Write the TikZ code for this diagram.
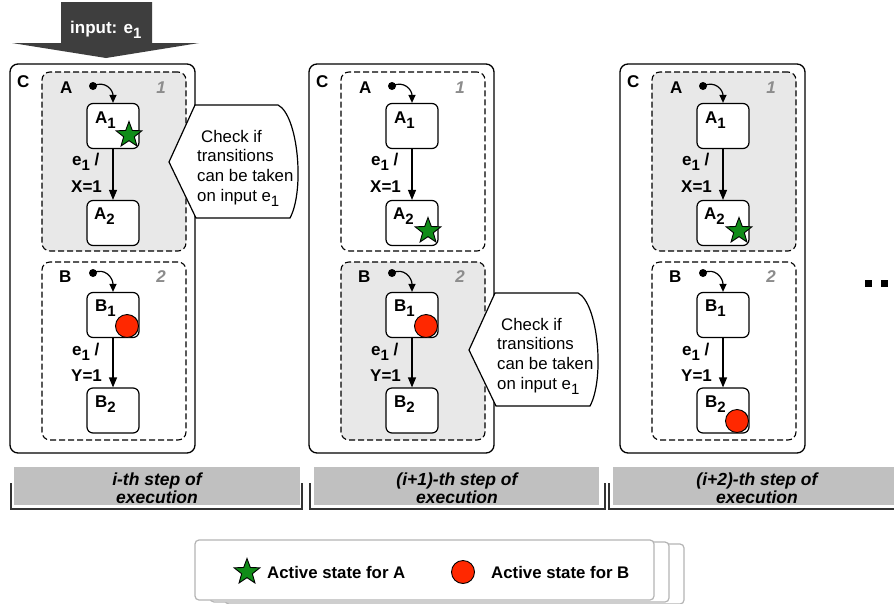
\documentclass[tikz,border=0pt]{standalone}
\usepackage{fontspec}
\setmainfont{Liberation Sans}
\usetikzlibrary{arrows.meta,shapes.geometric}
\definecolor{shade}{RGB}{232,232,232}
\definecolor{stargreen}{RGB}{16,140,24}
\definecolor{dotred}{RGB}{255,40,0}
\definecolor{arrowgray}{RGB}{62,62,62}
\definecolor{bargray}{RGB}{192,192,192}
\definecolor{numgray}{RGB}{140,140,140}
\definecolor{legline}{RGB}{180,180,180}
\newcommand\ssub[1]{\raisebox{-5pt}{\fontsize{15}{15}\selectfont #1}}
\tikzset{
 cbox/.style={draw, line width=1.3pt, rounded corners=8pt, minimum width=185pt, minimum height=389pt, inner sep=0pt, fill=white},
 region/.style={draw, dash pattern=on 6pt off 3pt, line width=1.1pt, rounded corners=8pt, minimum width=144pt, inner sep=0pt},
 st/.style={draw, fill=white, line width=1.2pt, rounded corners=6pt, minimum width=52pt, minimum height=45pt, inner sep=0pt},
 lbl/.style={font=\fontsize{17}{19}\selectfont\bfseries, inner sep=0pt},
 numlbl/.style={font=\fontsize{17}{19}\selectfont\bfseries\itshape, text=numgray, inner sep=0pt},
 trans/.style={-{Triangle[length=10pt,width=8pt]}, line width=1.2pt},
 initarr/.style={-{Triangle[length=8pt,width=7pt]}, line width=1.2pt},
 activeA/.style={star, star points=5, star point ratio=2.4, minimum size=27pt, inner sep=0pt, draw, line width=0.9pt, fill=stargreen},
 activeB/.style={circle, minimum size=23pt, inner sep=0pt, draw, line width=0.9pt, fill=dotred},
 calloutbox/.style={draw, line width=1.2pt, fill=white},
 callouttext/.style={font=\fontsize{16.8}{19.7}\selectfont, align=left, inner sep=0pt},
 steptext/.style={font=\fontsize{17.5}{18.5}\selectfont\bfseries\itshape, align=center, inner sep=0pt},
 bracket/.style={draw=black!80, line width=1.2pt},
 legbox/.style={draw=legline, line width=1.2pt, rounded corners=4pt, fill=white},
 legtext/.style={font=\fontsize{16.8}{19}\selectfont\bfseries, inner sep=0pt, anchor=west}
}
\newcommand\statepanel[6]{%
\begin{scope}[shift={(#1,0)}]
 \node[cbox] (#2C) at (102.5,258.5) {};
 \node[region, fill=#3, minimum height=179pt] (#2RA) at (114,161.5) {};
 \node[region, fill=#4, minimum height=178pt] (#2RB) at (114,351) {};
 \node[lbl, anchor=base west] (#2Cl) at (17,87) {C};
 \node[lbl, anchor=base west] (#2Al) at (60,93) {A};
 \node[numlbl, anchor=base east] (#2An) at (166,93) {1};
 \node[lbl, anchor=base west] (#2Bl) at (59,282) {B};
 \node[numlbl, anchor=base east] (#2Bn) at (166,282) {2};
 \node[st] (#2A1) at (113,126) {};
 \node[st] (#2A2) at (113,223) {};
 \node[st] (#2B1) at (113,315) {};
 \node[st] (#2B2) at (113,410.5) {};
 \node[lbl, anchor=base west] (#2A1l) at (95,123) {A\ssub{1}};
 \node[lbl, anchor=base west] (#2A2l) at (94,219) {A\ssub{2}};
 \node[lbl, anchor=base west] (#2B1l) at (95,311) {B\ssub{1}};
 \node[lbl, anchor=base west] (#2B2l) at (95,407) {B\ssub{2}};
 \coordinate (#2Ai) at (93,86);
 \coordinate (#2Bi) at (93,273);
 \fill (#2Ai) circle (4pt);
 \fill (#2Bi) circle (4pt);
 \draw[initarr] (#2Ai) .. controls (105,80) and (113,90) .. (#2A1.north);
 \draw[initarr] (#2Bi) .. controls (105,267) and (113,278) .. (#2B1.north);
 \draw[trans] (#2A1.south) -- (#2A2.north);
 \draw[trans] (#2B1.south) -- (#2B2.north);
 \node[lbl, anchor=base west] (#2ta) at (72,165) {e\ssub{1} /};
 \node[lbl, anchor=base west] (#2tb) at (71,192) {X=1};
 \node[lbl, anchor=base west] (#2tc) at (72,355) {e\ssub{1} /};
 \node[lbl, anchor=base west] (#2td) at (71,381) {Y=1};
 \fill[black!55] (128,#6) circle (11.5pt);
 \node[activeB] (#2act) at (127,#6) {};
 \node[activeA] (#2acs) at (129,#5) {};
\end{scope}}
\newcommand\checkcallout[3]{%
\begin{scope}[shift={(#1,#2)}]
 \draw[calloutbox] (195,105) -- (278,105) .. controls (298,115) and (305,190) .. (290,218) -- (196,218) -- (169,162) -- cycle;
 \node[callouttext, anchor=west] (#3) at (197,168) {\hspace*{4pt}Check if\\transitions\\can be taken\\on input e\ssub{1}};
\end{scope}}
\begin{document}
\begin{tikzpicture}[x=1pt,y=-1pt]
\useasboundingbox (0,0) rectangle (894,603);
\fill[white] (0,0) rectangle (894,603);
% input arrow
\fill[arrowgray] (61,2) -- (152,2) -- (152,43) -- (199,43) -- (106,58) -- (12,43) -- (61,43) -- cycle;
\node[lbl, text=white, anchor=base west] (inp) at (70,33) {input: e\ssub{1}};
% panels
\statepanel{0}{p}{shade}{white}{135}{326}
\statepanel{299}{q}{white}{shade}{231}{326}
\statepanel{610}{r}{shade}{white}{231}{421}
\checkcallout{0}{0}{cka}
\checkcallout{300}{188}{ckb}
% continuation dots
\fill (865,280) rectangle (872,287);
\fill (881,280) rectangle (888,287);
% step bars
\fill[bargray] (14,467) rectangle (300,505);
\draw[bracket] (11,483) -- (11,509) -- (302,509) -- (302,483);
\node[steptext] (s1) at (157,488) {i-th step of\\execution};
\fill[bargray] (314,467) rectangle (599,505);
\draw[bracket] (310,483) -- (310,509) -- (605,509) -- (605,483);
\node[steptext] (s2) at (457,488) {(i+1)-th step of\\execution};
\fill[bargray] (613,467) rectangle (894,505);
\draw[bracket] (609,483) -- (609,509) -- (894,509);
\node[steptext] (s3) at (757,488) {(i+2)-th step of\\execution};
% legend
\draw[legbox] (225,544) rectangle (684,604);
\draw[legbox] (210,542) rectangle (669,602);
\draw[legbox] (195,540) rectangle (654,600);
\node[activeA] (lgs) at (247,572) {};
\node[legtext] (lgA) at (267,572) {Active state for A};
\node[activeB] (lgc) at (463,572) {};
\node[legtext] (lgB) at (491,572) {Active state for B};
\end{tikzpicture}
\end{document}
